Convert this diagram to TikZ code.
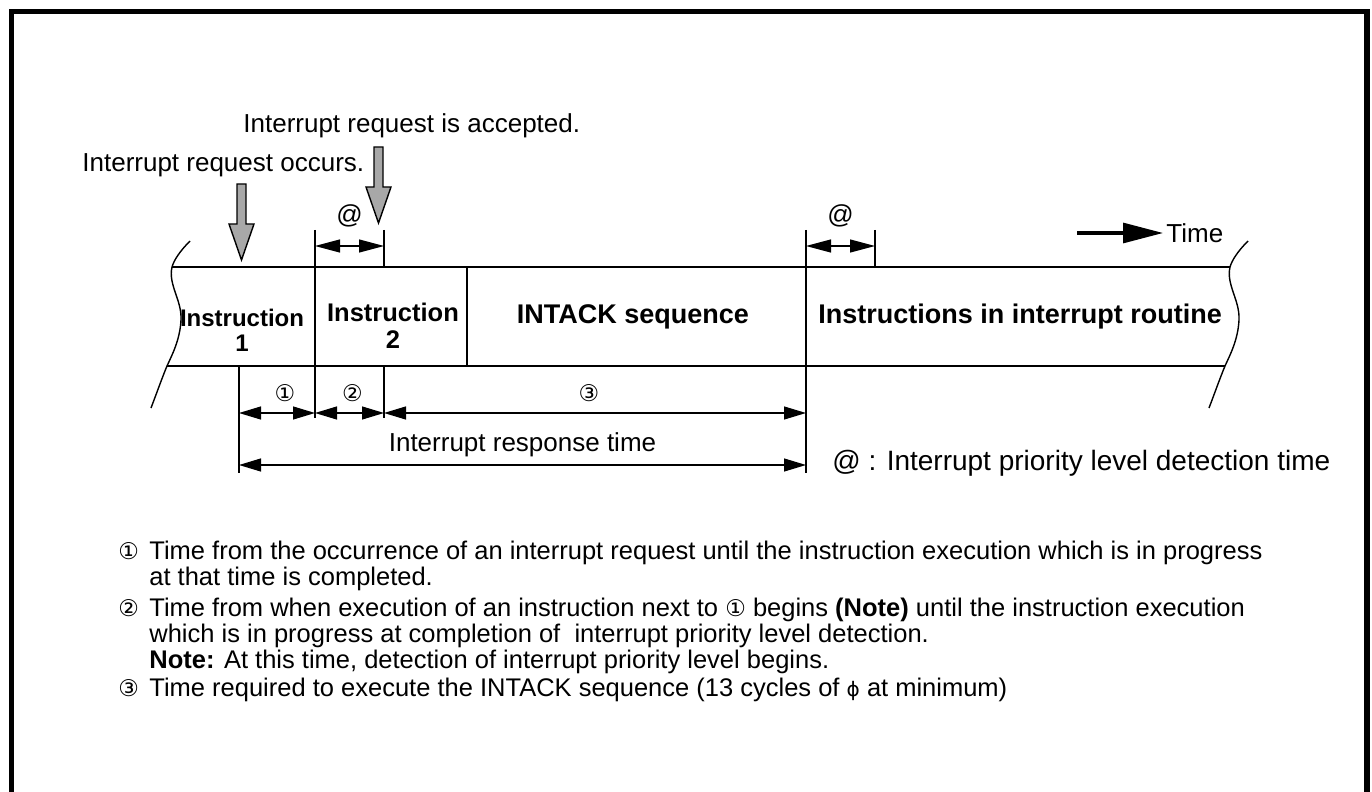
\documentclass[tikz,border=0pt]{standalone}
\usepackage{fontspec}
\setmainfont{Liberation Sans}
\newfontfamily\dejavu{DejaVu Sans}
\usetikzlibrary{arrows.meta}
\definecolor{ink}{HTML}{000000}
\definecolor{shade}{HTML}{A8A8A8}
\newcommand\cnum[1]{{\dejavu\fontsize{11.5}{12}\selectfont #1}}

\begin{document}
\begin{tikzpicture}[x=0.5pt,y=-0.5pt,line join=miter,
  txt/.style={font=\fontsize{13}{15}\selectfont,inner sep=0pt},
  body/.style={font=\fontsize{12.75}{15}\selectfont,inner sep=0pt,anchor=base west},
  cell/.style={font=\bfseries\fontsize{13.5}{14}\selectfont,align=center,inner sep=0pt},
  bandline/.style={ink,line width=1.25pt},
  tick/.style={ink,line width=0.7pt},
  dim/.style={ink,line width=0.6pt,{Triangle[length=11pt,width=6.5pt]}-{Triangle[length=11pt,width=6.5pt]}},
  atdim/.style={dim,{Triangle[length=12.5pt,width=6.5pt]}-{Triangle[length=12.5pt,width=6.5pt]}},
  flag/.style={draw=ink,fill=shade,line width=0.7pt}]
  \useasboundingbox (0,0) rectangle (1372,792);
  \draw[ink,line width=2.75pt] (11.5,800) -- (11.5,11.5) -- (1367,11.5) -- (1367,800);

  % request labels and arrows
  \node[txt,anchor=base west] (accepted) at (243,133) {Interrupt request is accepted.};
  \node[txt,anchor=base west] (occurs) at (82,172) {Interrupt request occurs.};
  \foreach \x/\t/\b/\p in {241.5/184/224/260,378.5/147/187/223}
    \draw[flag] (\x-4.5,\t) -- (\x+4.5,\t) -- (\x+4.5,\b) -- (\x+12.5,\b)
      -- (\x,\p) -- (\x-12.5,\b) -- (\x-4.5,\b) -- cycle;

  % time band
  \draw[bandline] (172,267) -- (1230,267);
  \draw[bandline] (167,366) -- (1225,366);
  \foreach \dx in {0,1058}
    \draw[ink,line width=0.7pt,shift={(\dx,0)}] (190,241) .. controls (180,251) and (174,260) .. (172,267)
      .. controls (168,285) and (182,300) .. (181,320)
      .. controls (180,340) and (172,355) .. (167,366)
      .. controls (162,378) and (156,395) .. (151,408);

  \coordinate (xa) at (239,0);
  \coordinate (xb) at (315,0);
  \coordinate (xc) at (384,0);
  \coordinate (xd) at (806,0);
  \coordinate (xe) at (875,0);
  \coordinate (ytop) at (0,246);
  \coordinate (yone) at (0,413);
  \coordinate (ytwo) at (0,465);

  \draw[tick] (239,366) -- (239,473);
  \draw[tick] (315,230) -- (315,418);
  \draw[tick] (384,230) -- (384,267) (384,366) -- (384,418);
  \draw[tick] (467,267) -- (467,366);
  \draw[tick] (806,230) -- (806,473);
  \draw[tick] (875,230) -- (875,267);

  \node[cell,font=\bfseries\fontsize{12}{12.5}\selectfont] (instone) at (242,330) {Instruction\\1};
  \node[cell,font=\bfseries\fontsize{12.75}{13.5}\selectfont] (insttwo) at (393,326) {Instruction\\2};
  \node[cell] (intack) at (633,317) {INTACK sequence};
  \node[cell] (routine) at (1020,317) {Instructions in interrupt routine};

  % time arrow
  \node[txt,anchor=west] (timelbl) at (1166,233) {Time};
  \coordinate (timetail) at (1077,233);
  \draw[ink,line width=1.5pt,-{Triangle[length=20pt,width=10pt]},shorten >=1.5pt] (timetail) -- (timelbl.west);

  % detection times
  \draw[atdim] (xb |- ytop) -- (xc |- ytop) node[txt,midway,yshift=15pt] (atone) {@};
  \draw[atdim] (xd |- ytop) -- (xe |- ytop) node[txt,midway,yshift=15pt] (attwo) {@};

  % response time
  \draw[dim] (xa |- yone) -- (xb |- yone) node[midway,inner sep=0pt,yshift=10pt,xshift=4pt] (perone) {\cnum{①}};
  \draw[dim] (xb |- yone) -- (xc |- yone) node[midway,inner sep=0pt,yshift=10pt,xshift=1.5pt] (pertwo) {\cnum{②}};
  \draw[dim] (xc |- yone) -- (xd |- yone) node[midway,inner sep=0pt,yshift=10pt,xshift=-3pt] (perthree) {\cnum{③}};
  \draw[dim] (xa |- ytwo) -- (xd |- ytwo) node[txt,midway,yshift=10pt] (response) {Interrupt response time};
  \node[txt,font=\fontsize{14}{16}\selectfont,anchor=west] (legend) at (832,463) {@ : Interrupt priority level detection time};

  % notes
  \node[body] (noteone) at (118,559) {\makebox[15.5pt][l]{\cnum{①}}Time from the occurrence of an interrupt request until the instruction execution which is in progress};
  \node[body] (noteonecont) at (149,585) {at that time is completed.};
  \node[body] (notetwo) at (118,616) {\makebox[15.5pt][l]{\cnum{②}}Time from when execution of an instruction next to \cnum{①} begins \textbf{(Note)} until the instruction execution};
  \node[body] (notetwocont) at (149,642) {which is in progress at completion of~ interrupt priority level detection.};
  \node[body] (notetwonote) at (149,668) {\textbf{Note:} At this time, detection of interrupt priority level begins.};
  \node[body] (notethree) at (118,696) {\makebox[15.5pt][l]{\cnum{③}}Time required to execute the INTACK sequence (13 cycles of {\dejavu\fontsize{10}{11}\selectfont ϕ} at minimum)};
\end{tikzpicture}
\end{document}
